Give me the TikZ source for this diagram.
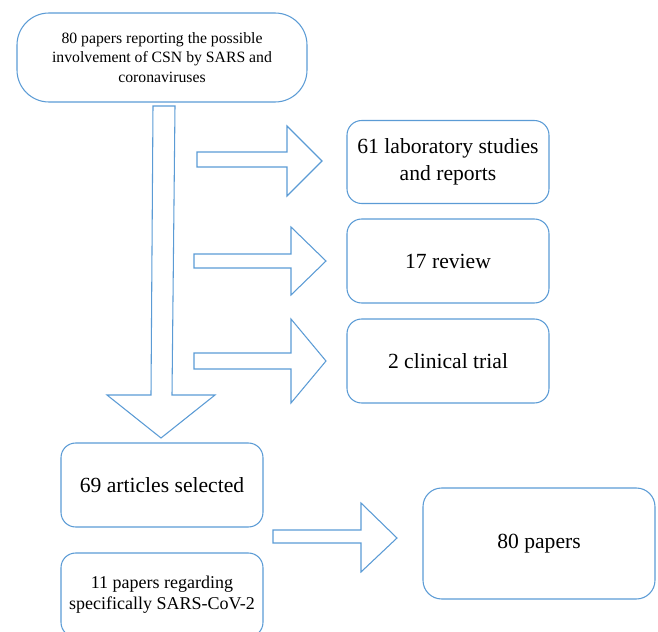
\documentclass[tikz,border=0pt]{standalone}
\usepackage{fontspec}
\setmainfont{Liberation Serif}
\definecolor{boxblue}{RGB}{91,155,213}
\begin{document}
\begin{tikzpicture}[x=0.75pt,y=-0.75pt,
  box/.style={draw=boxblue,line width=0.8pt,rounded corners=#1,align=center,inner sep=0pt,text=black},
  box/.default=11pt,
  blockarrow/.style={draw=boxblue,line width=0.8pt,line join=miter},
  bigtext/.style={font=\fontsize{16.2}{20.3}\selectfont},
  midtext/.style={font=\fontsize{13.5}{15.8}\selectfont},
  smalltext/.style={font=\fontsize{11.8}{14.6}\selectfont}]
\useasboundingbox (0,0) rectangle (658,632);
\begin{scope}
\clip (0,0) rectangle (658,632);
% boxes
\node[box=24pt,minimum width=290*0.75pt,minimum height=89*0.75pt,smalltext] (top) at (162,57.5)
  {80 papers reporting the possible\\involvement of CSN by SARS and\\coronaviruses};
\node[box,minimum width=202*0.75pt,minimum height=83*0.75pt,bigtext] (lab) at (448,162)
  {61 laboratory studies\\and reports};
\node[box,minimum width=202*0.75pt,minimum height=84*0.75pt,bigtext] (rev) at (448,261)
  {17 review};
\node[box,minimum width=202*0.75pt,minimum height=84*0.75pt,bigtext] (cli) at (448,361)
  {2 clinical trial};
\node[box,minimum width=202*0.75pt,minimum height=84*0.75pt,bigtext] (sel) at (162,485)
  {69 articles selected};
\node[box,minimum width=202*0.75pt,minimum height=84*0.75pt,midtext] (sars) at (162,595)
  {11 papers regarding\\specifically SARS-CoV-2};
\node[box=14pt,minimum width=232*0.75pt,minimum height=111*0.75pt,bigtext] (fin) at (539,543.5)
  {80 papers};
% big down arrow
\coordinate (dtip) at (161,438);
\draw[blockarrow] (153,106) -- (175,106) -- (172,395) -- (215,395) -- (dtip) -- (107,395) -- (151,395) -- cycle;
% right arrows
\coordinate (t1) at (322,161);
\draw[blockarrow] (197,152) -- (287,152) -- (287,126) -- (t1) -- (287,196) -- (287,167) -- (197,167) -- cycle;
\coordinate (t2) at (326,261);
\draw[blockarrow] (194,254) -- (291,254) -- (291,227) -- (t2) -- (291,295) -- (291,268) -- (194,268) -- cycle;
\coordinate (t3) at (326,361);
\draw[blockarrow] (194,353) -- (291,353) -- (291,319) -- (t3) -- (291,403) -- (291,369) -- (194,369) -- cycle;
\coordinate (t4) at (397,538);
\draw[blockarrow] (273,530) -- (361,530) -- (361,503) -- (t4) -- (361,572) -- (361,543) -- (273,543) -- cycle;
\end{scope}
\end{tikzpicture}
\end{document}
